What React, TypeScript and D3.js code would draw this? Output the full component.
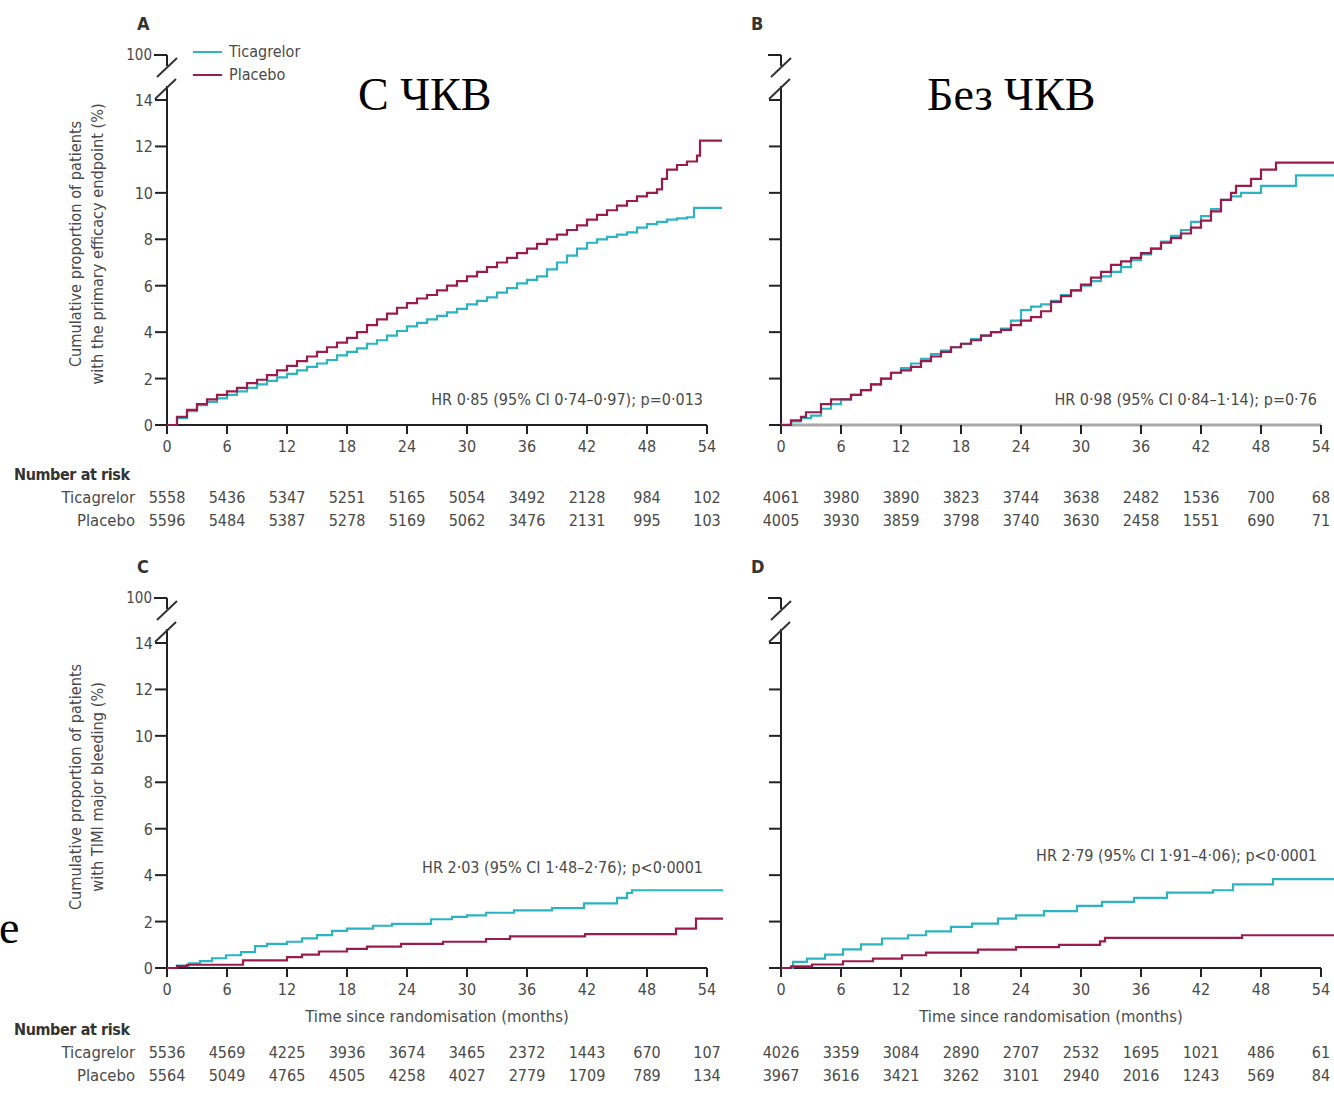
import React from "react";
import * as d3 from "d3";

// ---- data ----
const months = [0, 6, 12, 18, 24, 30, 36, 42, 48, 54];
const yTicks = [0, 2, 4, 6, 8, 10, 12, 14];
const groups = ["Ticagrelor", "Placebo"];

// panel A: primary efficacy endpoint, with PCI
const efficacyPciTicagrelor: [number, number][] = [
  [0, 0], [1, 0.3], [2, 0.6], [3, 0.85], [4, 1.0], [5, 1.15], [6, 1.3], [7, 1.45], [8, 1.6],
  [9, 1.75], [10, 1.9], [11, 2.05], [12, 2.2], [13, 2.35], [14, 2.5], [15, 2.65], [16, 2.8],
  [17, 3.0], [18, 3.15], [19, 3.3], [20, 3.5], [21, 3.65], [22, 3.85], [23, 4.05], [24, 4.25],
  [25, 4.4], [26, 4.55], [27, 4.7], [28, 4.85], [29, 5.0], [30, 5.2], [31, 5.35], [32, 5.5],
  [33, 5.7], [34, 5.9], [35, 6.1], [36, 6.25], [37, 6.4], [38, 6.7], [39, 7.0], [40, 7.3],
  [41, 7.6], [42, 7.85], [43, 8.0], [44, 8.1], [45, 8.2], [46, 8.3], [47, 8.5], [48, 8.65],
  [49, 8.75], [50, 8.85], [51, 8.9], [52, 8.95], [52.7, 9.35], [55.5, 9.35],
];
const efficacyPciPlacebo: [number, number][] = [
  [0, 0], [1, 0.35], [2, 0.65], [3, 0.9], [4, 1.1], [5, 1.3], [6, 1.45], [7, 1.6], [8, 1.8],
  [9, 1.95], [10, 2.15], [11, 2.35], [12, 2.55], [13, 2.75], [14, 2.95], [15, 3.15], [16, 3.35],
  [17, 3.55], [18, 3.75], [19, 4.0], [20, 4.3], [21, 4.55], [22, 4.8], [23, 5.05], [24, 5.25],
  [25, 5.45], [26, 5.6], [27, 5.8], [28, 6.0], [29, 6.2], [30, 6.4], [31, 6.6], [32, 6.8],
  [33, 7.0], [34, 7.2], [35, 7.4], [36, 7.6], [37, 7.8], [38, 8.0], [39, 8.2], [40, 8.4],
  [41, 8.6], [42, 8.85], [43, 9.05], [44, 9.25], [45, 9.45], [46, 9.65], [47, 9.85], [48, 10.0],
  [49, 10.15], [49.5, 10.6], [50, 11.0], [51, 11.2], [52, 11.35], [53, 11.6], [53.3, 12.25],
  [55.5, 12.25],
];

// panel B: primary efficacy endpoint, without PCI
const efficacyNoPciTicagrelor: [number, number][] = [
  [0, 0], [1, 0.15], [2, 0.3], [3, 0.4], [4, 0.7], [5, 0.9], [6, 1.1], [7, 1.3], [8, 1.5],
  [9, 1.75], [10, 2.0], [11, 2.25], [12, 2.45], [13, 2.65], [14, 2.85], [15, 3.05], [16, 3.2],
  [17, 3.35], [18, 3.5], [19, 3.7], [20, 3.85], [21, 4.0], [22, 4.15], [23, 4.5], [24, 4.95],
  [25, 5.1], [26, 5.2], [27, 5.35], [28, 5.6], [29, 5.8], [30, 6.0], [31, 6.2], [32, 6.4],
  [33, 6.6], [34, 6.8], [35, 7.1], [36, 7.35], [37, 7.6], [38, 7.9], [39, 8.15], [40, 8.4],
  [41, 8.75], [42, 9.0], [43, 9.3], [44, 9.7], [45, 9.85], [46, 10.0], [47, 10.0], [48, 10.3],
  [51.5, 10.75], [56, 10.75],
];
const efficacyNoPciPlacebo: [number, number][] = [
  [0, 0], [1, 0.2], [2, 0.35], [2.5, 0.55], [4, 0.9], [5, 1.1], [6, 1.1], [7, 1.3], [8, 1.5],
  [9, 1.75], [10, 2.0], [11, 2.25], [12, 2.35], [13, 2.5], [14, 2.75], [15, 2.95], [16, 3.15],
  [17, 3.35], [18, 3.5], [19, 3.65], [20, 3.85], [21, 4.0], [22, 4.1], [23, 4.3], [24, 4.5],
  [25, 4.65], [26, 4.9], [27, 5.3], [28, 5.55], [29, 5.8], [30, 6.05], [31, 6.35], [32, 6.6],
  [33, 6.9], [34, 7.05], [35, 7.2], [36, 7.4], [37, 7.6], [38, 7.85], [39, 8.05], [40, 8.25],
  [41, 8.5], [42, 8.8], [43, 9.2], [44, 9.7], [45, 10.0], [45.5, 10.3], [47, 10.6], [48, 11.0],
  [49.5, 11.3], [56, 11.3],
];

// panel C: TIMI major bleeding, with PCI
const bleedingPciTicagrelor: [number, number][] = [
  [0, 0], [1, 0.1], [2.2, 0.2], [3.3, 0.3], [4.5, 0.42], [5.9, 0.55], [7.4, 0.68], [8.8, 0.94],
  [10, 1.04], [12, 1.13], [13.5, 1.28], [15, 1.42], [16.5, 1.6], [18, 1.7], [20.6, 1.82],
  [22.5, 1.9], [26.4, 2.1], [28.5, 2.2], [30, 2.27], [31.9, 2.38], [34.7, 2.48], [38.5, 2.58],
  [41.7, 2.78], [45, 3.02], [46, 3.23], [46.5, 3.35], [55.6, 3.35],
];
const bleedingPciPlacebo: [number, number][] = [
  [0, 0], [1, 0.08], [2, 0.14], [7.6, 0.33], [12, 0.47], [13.5, 0.58], [15.2, 0.71],
  [18, 0.82], [20, 0.92], [23.4, 1.04], [27.6, 1.13], [31.9, 1.25], [34.3, 1.36],
  [41.8, 1.46], [50.9, 1.7], [52.9, 2.13], [55.6, 2.13],
];

// panel D: TIMI major bleeding, without PCI
const bleedingNoPciTicagrelor: [number, number][] = [
  [0, 0], [1.2, 0.26], [2.6, 0.4], [4.4, 0.58], [6.2, 0.8], [8, 1.02], [10.1, 1.27],
  [12.7, 1.41], [14.5, 1.58], [17, 1.77], [19.1, 1.91], [21.7, 2.13], [23.5, 2.27],
  [26.3, 2.45], [29.6, 2.68], [32.1, 2.85], [35.3, 3.02], [38.6, 3.25], [43.2, 3.35],
  [45.2, 3.6], [49.2, 3.83], [56, 3.83],
];
const bleedingNoPciPlacebo: [number, number][] = [
  [0, 0], [1, 0.07], [3.1, 0.15], [6.2, 0.29], [9.2, 0.4], [12.1, 0.55], [14.5, 0.66],
  [19.7, 0.79], [23.5, 0.9], [27.8, 1.0], [31.9, 1.15], [32.4, 1.3], [46.1, 1.41], [56, 1.41],
];

// number at risk
const riskA = [
  [5558, 5436, 5347, 5251, 5165, 5054, 3492, 2128, 984, 102],
  [5596, 5484, 5387, 5278, 5169, 5062, 3476, 2131, 995, 103],
];
const riskB = [
  [4061, 3980, 3890, 3823, 3744, 3638, 2482, 1536, 700, 68],
  [4005, 3930, 3859, 3798, 3740, 3630, 2458, 1551, 690, 71],
];
const riskC = [
  [5536, 4569, 4225, 3936, 3674, 3465, 2372, 1443, 670, 107],
  [5564, 5049, 4765, 4505, 4258, 4027, 2779, 1709, 789, 134],
];
const riskD = [
  [4026, 3359, 3084, 2890, 2707, 2532, 1695, 1021, 486, 61],
  [3967, 3616, 3421, 3262, 3101, 2940, 2016, 1243, 569, 84],
];

const hrText = [
  "HR 0·85 (95% CI 0·74–0·97); p=0·013",
  "HR 0·98 (95% CI 0·84–1·14); p=0·76",
  "HR 2·03 (95% CI 1·48–2·76); p<0·0001",
  "HR 2·79 (95% CI 1·91–4·06); p<0·0001",
];

const TEAL = "#2db4c2";
const CRIMSON = "#9b1c4c";
const INK = "#4a4a4a";
const FONT = "'Liberation Sans Narrow', 'DejaVu Sans Condensed', 'Roboto Condensed', sans-serif";

type PanelProps = {
  letter: string;
  left: number;
  bottom: number;
  tic: [number, number][];
  pla: [number, number][];
  risk: number[][];
  hr: string;
  hrY: number;
  yLabels: boolean;
  xAxisColor: string;
  titleLines?: string[];
  legend?: boolean;
  xTitle?: boolean;
  riskTop: number;
  riskLabels: boolean;
};

const Panel = (p: PanelProps) => {
  const x = d3.scaleLinear().domain([0, 54]).range([p.left, p.left + 540]);
  const y = d3.scaleLinear().domain([0, 14]).range([p.bottom, p.bottom - 325]);
  const line = d3
    .line<[number, number]>()
    .x((d) => x(d[0]))
    .y((d) => y(d[1]))
    .curve(d3.curveStepAfter);
  const top = y(14);
  const y100 = top - 45;

  return (
    <g fontFamily={FONT} fill={INK}>
      <text x={p.left - 30} y={y100 - 25} fontSize={18} fontWeight="bold" fill="#333">
        {p.letter}
      </text>

      {/* y axis with break */}
      <line x1={p.left} x2={p.left} y1={p.bottom} y2={top - 14} stroke="#222" strokeWidth={2} />
      <line x1={p.left} x2={p.left} y1={y100} y2={y100 + 11} stroke="#222" strokeWidth={2} />
      <line x1={p.left - 13} x2={p.left} y1={y100} y2={y100} stroke="#222" strokeWidth={2} />
      <line x1={p.left - 10} x2={p.left + 10} y1={y100 + 22} y2={y100 + 3} stroke="#333" strokeWidth={2} />
      <line x1={p.left - 12} x2={p.left + 9} y1={y100 + 44} y2={y100 + 24} stroke="#333" strokeWidth={2} />
      {p.yLabels && (
        <text x={p.left - 15} y={y100 + 5} textAnchor="end" fontSize={15}>100</text>
      )}
      {yTicks.map((t) => (
        <g key={t}>
          <line x1={p.left - 12} x2={p.left} y1={y(t)} y2={y(t)} stroke="#222" strokeWidth={2} />
          {p.yLabels && (
            <text x={p.left - 14} y={y(t) + 6} textAnchor="end" fontSize={16}>{t}</text>
          )}
        </g>
      ))}

      {p.titleLines && (
        <text
          transform={`translate(${p.left - 86},${y(7.8)}) rotate(-90)`}
          textAnchor="middle"
          fontSize={16.2}
        >
          <tspan x={0} dy={0}>{p.titleLines[0]}</tspan>
          <tspan x={0} dy={22}>{p.titleLines[1]}</tspan>
        </text>
      )}

      {/* x axis */}
      <line x1={p.left} x2={x(54)} y1={p.bottom} y2={p.bottom} stroke={p.xAxisColor} strokeWidth={p.xAxisColor === "#222" ? 2 : 3} />
      {months.map((m) => (
        <g key={m}>
          <line x1={x(m)} x2={x(m)} y1={p.bottom} y2={p.bottom + 9} stroke="#222" strokeWidth={2} />
          <text x={x(m)} y={p.bottom + 27} textAnchor="middle" fontSize={16}>{m}</text>
        </g>
      ))}
      {p.xTitle && (
        <text x={x(27)} y={p.bottom + 54} textAnchor="middle" fontSize={16.5}>
          Time since randomisation (months)
        </text>
      )}

      <path d={line(p.tic) ?? ""} fill="none" stroke={TEAL} strokeWidth={2.2} />
      <path d={line(p.pla) ?? ""} fill="none" stroke={CRIMSON} strokeWidth={2.2} />

      <text x={x(54) - 4} y={p.hrY} textAnchor="end" fontSize={16}>{p.hr}</text>

      {p.legend && (
        <g>
          <line x1={p.left + 26} x2={p.left + 55} y1={y100 - 3} y2={y100 - 3} stroke={TEAL} strokeWidth={2} />
          <text x={p.left + 62} y={y100 + 2} fontSize={16}>{groups[0]}</text>
          <line x1={p.left + 26} x2={p.left + 55} y1={y100 + 20} y2={y100 + 20} stroke={CRIMSON} strokeWidth={2} />
          <text x={p.left + 62} y={y100 + 25} fontSize={16}>{groups[1]}</text>
        </g>
      )}

      {/* number at risk */}
      {p.riskLabels && (
        <text x={14} y={p.riskTop} fontSize={16} fontWeight="bold" fill="#333" letterSpacing={-0.4}>
          Number at risk
        </text>
      )}
      {p.risk.map((row, i) => (
        <g key={i}>
          {p.riskLabels && (
            <text x={135} y={p.riskTop + 23 + i * 23} textAnchor="end" fontSize={16.5}>{groups[i]}</text>
          )}
          {row.map((v, j) => (
            <text key={j} x={x(months[j])} y={p.riskTop + 23 + i * 23} textAnchor="middle" fontSize={16}>
              {v}
            </text>
          ))}
        </g>
      ))}
    </g>
  );
};

export default function App() {
  return (
    <svg
      width={1334}
      height={1095}
      style={{ position: "absolute", left: 0, top: 0, background: "#fff" }}
    >
      <Panel
        letter="A" left={167} bottom={425} tic={efficacyPciTicagrelor} pla={efficacyPciPlacebo}
        risk={riskA} hr={hrText[0]} hrY={405} yLabels xAxisColor="#222" legend
        titleLines={["Cumulative proportion of patients", "with the primary efficacy endpoint (%)"]}
        riskTop={480} riskLabels
      />
      <Panel
        letter="B" left={781} bottom={425} tic={efficacyNoPciTicagrelor} pla={efficacyNoPciPlacebo}
        risk={riskB} hr={hrText[1]} hrY={405} yLabels={false} xAxisColor="#a8a8a8"
        riskTop={480} riskLabels={false}
      />
      <Panel
        letter="C" left={167} bottom={968} tic={bleedingPciTicagrelor} pla={bleedingPciPlacebo}
        risk={riskC} hr={hrText[2]} hrY={873} yLabels xAxisColor="#222" xTitle
        titleLines={["Cumulative proportion of patients", "with TIMI major bleeding (%)"]}
        riskTop={1035} riskLabels
      />
      <Panel
        letter="D" left={781} bottom={968} tic={bleedingNoPciTicagrelor} pla={bleedingNoPciPlacebo}
        risk={riskD} hr={hrText[3]} hrY={861} yLabels={false} xAxisColor="#222" xTitle
        riskTop={1035} riskLabels={false}
      />

      <g fontFamily="'Liberation Serif', 'Times New Roman', serif" fontSize={46} fill="#000">
        <text x={358} y={110}>С ЧКВ</text>
        <text x={927} y={110}>Без ЧКВ</text>
        <text x={-1} y={943}>е</text>
      </g>
    </svg>
  );
}
